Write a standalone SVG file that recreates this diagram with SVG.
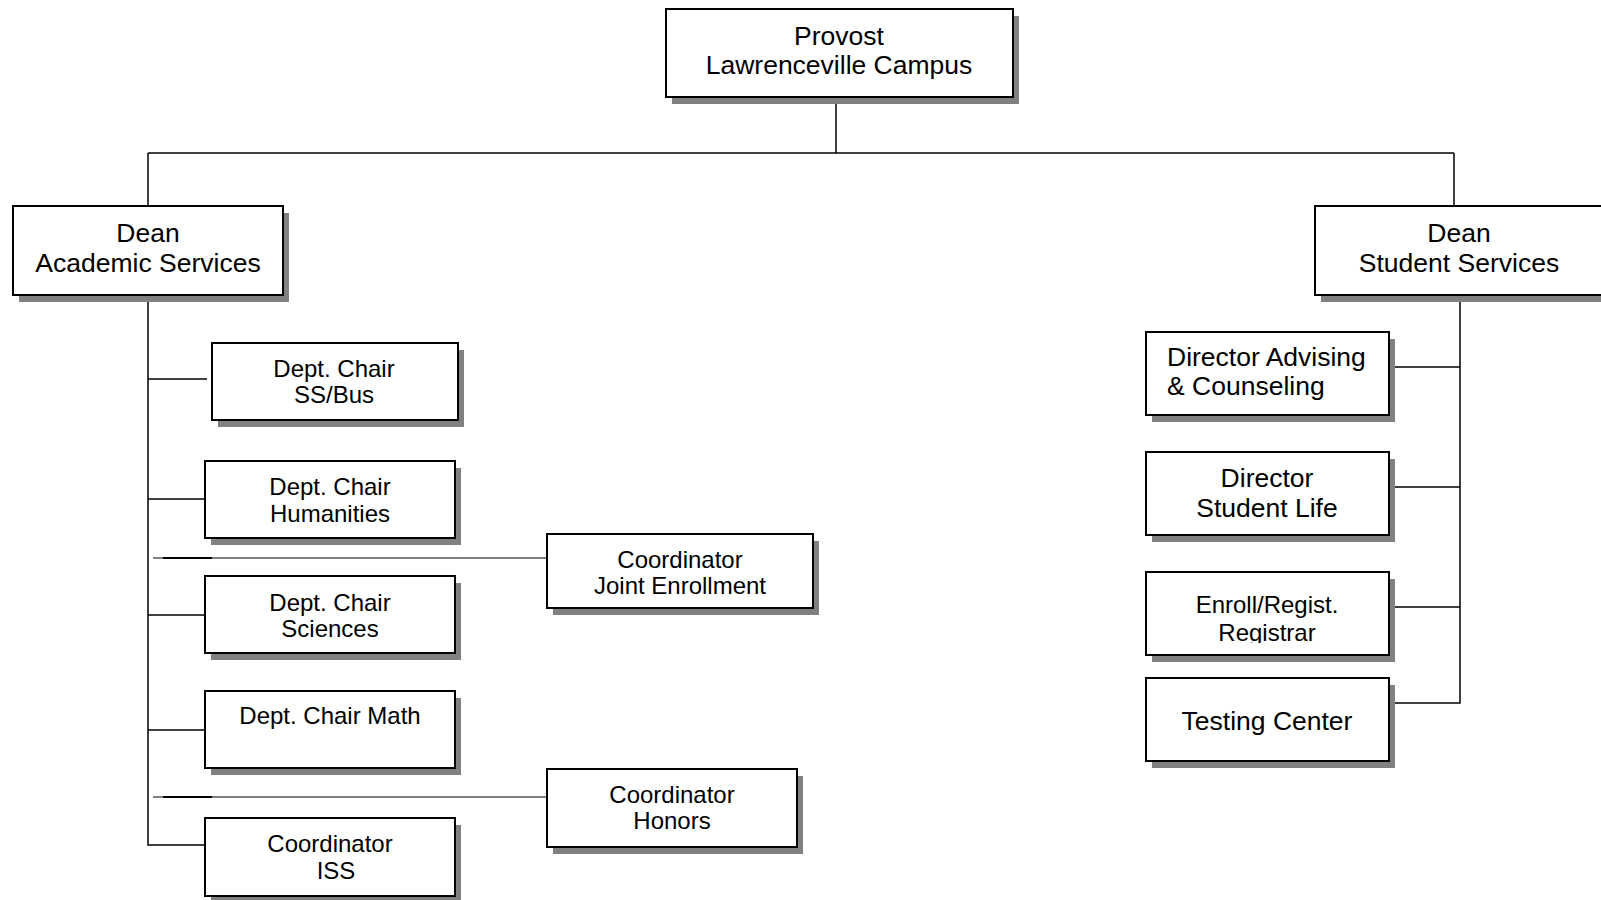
<svg xmlns="http://www.w3.org/2000/svg" width="1601" height="900" viewBox="0 0 1601 900">
<style>
.bx{fill:#fff;stroke:#000;stroke-width:2}
.sh{fill:#808080}
.ln{stroke:#000;stroke-width:1.5;fill:none}
.t{font-family:"Liberation Sans",Arial,sans-serif;fill:#000;text-anchor:middle}
.L{font-size:26.5px}
.S{font-size:24px}
</style>
<defs>
<clipPath id="clipReg"><rect x="1140" y="570" width="250" height="73"/></clipPath>
</defs>
<rect width="1601" height="900" fill="#fff"/>
<g id="connectors">
<path class="ln" d="M836 97 V153 M148 153 H1454 M148 153 V205 M1454 153 V205"/>
<path class="ln" d="M148 294 V845 H205 M148 379 H207 M148 499 H205 M148 615 H205 M148 730 H205"/>
<path d="M153 558 H547 M153 797 H547" stroke="#000" stroke-width="1.2" fill="none"/>
<path d="M163 558 H212 M163 797 H212" stroke="#000" stroke-width="2.2" fill="none"/>
<path class="ln" d="M1460 294 V703 H1389 M1389 367 H1460 M1389 487 H1460 M1389 607 H1460"/>
</g>
<g id="provost">
<rect class="sh" x="672" y="16" width="347" height="88"/>
<rect class="bx" x="666" y="9" width="347" height="88"/>
<text class="t L" x="839" y="45">Provost</text>
<text class="t L" x="839" y="74">Lawrenceville Campus</text>
</g>
<g id="dean-academic">
<rect class="sh" x="19" y="213" width="270" height="89"/>
<rect class="bx" x="13" y="206" width="270" height="89"/>
<text class="t L" x="148" y="242">Dean</text>
<text class="t L" x="148" y="272">Academic Services</text>
</g>
<g id="dean-student">
<rect class="sh" x="1321" y="213" width="290" height="89"/>
<rect class="bx" x="1315" y="206" width="290" height="89"/>
<text class="t L" x="1459" y="242">Dean</text>
<text class="t L" x="1459" y="272">Student Services</text>
</g>
<g id="chair-ssbus">
<rect class="sh" x="218" y="350" width="246" height="77"/>
<rect class="bx" x="212" y="343" width="246" height="77"/>
<text class="t S" x="334" y="377">Dept. Chair</text>
<text class="t S" x="334" y="403">SS/Bus</text>
</g>
<g id="chair-humanities">
<rect class="sh" x="211" y="468" width="250" height="77"/>
<rect class="bx" x="205" y="461" width="250" height="77"/>
<text class="t S" x="330" y="495">Dept. Chair</text>
<text class="t S" x="330" y="522">Humanities</text>
</g>
<g id="coord-joint">
<rect class="sh" x="553" y="541" width="266" height="74"/>
<rect class="bx" x="547" y="534" width="266" height="74"/>
<text class="t S" x="680" y="568">Coordinator</text>
<text class="t S" x="680" y="594">Joint Enrollment</text>
</g>
<g id="chair-sciences">
<rect class="sh" x="211" y="583" width="250" height="77"/>
<rect class="bx" x="205" y="576" width="250" height="77"/>
<text class="t S" x="330" y="611">Dept. Chair</text>
<text class="t S" x="330" y="637">Sciences</text>
</g>
<g id="chair-math">
<rect class="sh" x="211" y="698" width="250" height="77"/>
<rect class="bx" x="205" y="691" width="250" height="77"/>
<text class="t S" x="330" y="724">Dept. Chair Math</text>
</g>
<g id="coord-honors">
<rect class="sh" x="553" y="776" width="250" height="78"/>
<rect class="bx" x="547" y="769" width="250" height="78"/>
<text class="t S" x="672" y="803">Coordinator</text>
<text class="t S" x="672" y="829">Honors</text>
</g>
<g id="coord-iss">
<rect class="sh" x="211" y="825" width="250" height="78"/>
<rect class="bx" x="205" y="818" width="250" height="78"/>
<text class="t S" x="330" y="852">Coordinator</text>
<text class="t S" x="336" y="879">ISS</text>
</g>
<g id="dir-advising">
<rect class="sh" x="1152" y="339" width="243" height="83"/>
<rect class="bx" x="1146" y="332" width="243" height="83"/>
<text class="t L" x="1167" y="366" text-anchor="start" style="text-anchor:start">Director Advising</text>
<text class="t L" x="1167" y="395" style="text-anchor:start">&amp; Counseling</text>
</g>
<g id="dir-student-life">
<rect class="sh" x="1152" y="459" width="243" height="83"/>
<rect class="bx" x="1146" y="452" width="243" height="83"/>
<text class="t L" x="1267" y="487">Director</text>
<text class="t L" x="1267" y="517">Student Life</text>
</g>
<g id="registrar">
<rect class="sh" x="1152" y="579" width="243" height="83"/>
<rect class="bx" x="1146" y="572" width="243" height="83"/>
<g clip-path="url(#clipReg)">
<text class="t S" x="1267" y="613">Enroll/Regist.</text>
<text class="t S" x="1267" y="641">Registrar</text>
</g>
</g>
<g id="testing-center">
<rect class="sh" x="1152" y="685" width="243" height="83"/>
<rect class="bx" x="1146" y="678" width="243" height="83"/>
<text class="t L" x="1267" y="730">Testing Center</text>
</g>
</svg>
